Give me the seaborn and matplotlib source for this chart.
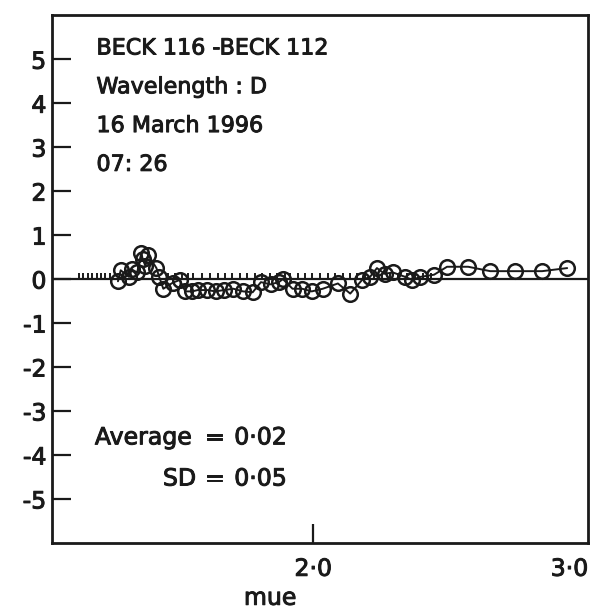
import matplotlib
matplotlib.use("Agg")
import matplotlib.pyplot as plt
import matplotlib.patheffects as pe
import seaborn as sns
import pandas as pd

# averaged points (open circles)
mue_avg = [1.29, 1.30, 1.33, 1.34, 1.36, 1.375, 1.38, 1.39, 1.40, 1.43, 1.44, 1.455,
           1.49, 1.515, 1.535, 1.56, 1.58, 1.615, 1.645, 1.675, 1.71, 1.745, 1.78,
           1.81, 1.845, 1.875, 1.89, 1.925, 1.96, 1.995, 2.035, 2.09, 2.135, 2.178,
           2.207, 2.232, 2.26, 2.29, 2.335, 2.36, 2.39, 2.44, 2.487, 2.564, 2.644,
           2.735, 2.833, 2.924]
diff_avg = [-0.05, 0.20, 0.05, 0.22, 0.15, 0.60, 0.45, 0.30, 0.55, 0.25, 0.05, -0.22,
            -0.08, -0.02, -0.28, -0.28, -0.25, -0.25, -0.28, -0.25, -0.22, -0.28, -0.30,
            -0.07, -0.12, -0.07, 0.0, -0.22, -0.22, -0.28, -0.22, -0.10, -0.33, -0.02,
            0.05, 0.25, 0.12, 0.15, 0.05, -0.02, 0.05, 0.10, 0.28, 0.28, 0.18,
            0.18, 0.18, 0.25]

# individual measurements (short vertical ticks)
mue_ind = [1.149, 1.164, 1.180, 1.195, 1.212, 1.228, 1.244, 1.261,
           1.473, 1.498, 1.524, 1.545, 1.564, 1.596, 1.625, 1.655, 1.680, 1.705,
           1.735, 1.760, 1.789, 1.815, 1.844, 1.869, 1.898, 1.916, 1.945, 1.971,
           1.996, 2.025, 2.055, 2.080, 2.109, 2.135, 2.160, 2.190, 2.220, 2.250,
           2.280, 2.310, 2.340, 2.370, 2.400, 2.430]
diff_ind = [0.06] * len(mue_ind)

y_ticks = [-5, -4, -3, -2, -1, 0, 1, 2, 3, 4, 5]
x_ticks = [2.0, 3.0]
x_tick_labels = ["2\u00b70", "3\u00b70"]

title_lines = ["BECK 116 -BECK 112", "Wavelength : D", "16 March 1996", "07: 26"]
stat_names = ["Average", "SD"]
stat_values = ["0\u00b702", "0\u00b705"]

sns.set_theme(style="white")
plt.rcParams['font.family'] = ['DejaVu Sans']
FS = 16
FT = 17
INK = "#1a1a1a"
BOLDEN = [pe.withStroke(linewidth=0.7, foreground=INK)]

fig = plt.figure(figsize=(5.94, 6.10), dpi=100)
ax = fig.add_axes([0.0875, 0.110, 0.9025, 0.865])

df_avg = pd.DataFrame({"mue": mue_avg, "diff": diff_avg})
df_ind = pd.DataFrame({"mue": mue_ind, "diff": diff_ind})

ax.axhline(0, color=INK, lw=1.6, zorder=1)
sns.scatterplot(data=df_ind, x="mue", y="diff", marker="|", s=14, linewidth=1.4,
                color=INK, ax=ax, zorder=2)
sns.lineplot(data=df_avg, x="mue", y="diff", estimator=None, sort=False,
             color=INK, lw=1.4, marker="o", markersize=10.5,
             markerfacecolor="none", markeredgecolor=INK,
             markeredgewidth=1.8, ax=ax, zorder=3)

ax.set_xlim(1.05, 3.0)
ax.set_ylim(-6, 6)
ax.set_yticks(y_ticks)
ax.set_yticklabels([str(v) for v in y_ticks], fontsize=FT)
ax.set_xticks(x_ticks)
ax.set_xticklabels(x_tick_labels, fontsize=FT)
ax.get_xticklabels()[1].set_horizontalalignment("right")
ax.tick_params(axis="y", direction="in", length=14, width=1.6, pad=4, left=True, colors=INK)
ax.tick_params(axis="x", direction="in", length=14, width=1.6, pad=10, bottom=True, colors=INK)
ax.xaxis.get_major_ticks()[1].tick1line.set_visible(False)
ax.set_xlabel("mue", fontsize=FT, color=INK)
ax.xaxis.label.set_verticalalignment("center")
ax.xaxis.set_label_coords(0.407, -0.104)
ax.set_ylabel("")
for lab in ax.get_xticklabels() + ax.get_yticklabels() + [ax.xaxis.label]:
    lab.set_path_effects(BOLDEN)

for s in ax.spines.values():
    s.set_visible(True)
    s.set_linewidth(2.0)
    s.set_color(INK)

for i, t in enumerate(title_lines):
    ax.text(0.083, 0.937 - i * 0.0735, t, transform=ax.transAxes, fontsize=FS,
            color=INK, va="center", ha="left", path_effects=BOLDEN)

name_x = [0.080, 0.207]
stat_y = [0.200, 0.122]
for nx, yy, name, val in zip(name_x, stat_y, stat_names, stat_values):
    ax.text(nx, yy, name, transform=ax.transAxes, fontsize=FT, color=INK,
            va="center", ha="left", path_effects=BOLDEN)
    ax.text(0.303, yy, "=", transform=ax.transAxes, fontsize=FT, color=INK,
            va="center", ha="center", path_effects=BOLDEN)
    ax.text(0.340, yy, val, transform=ax.transAxes, fontsize=FT, color=INK,
            va="center", ha="left", path_effects=BOLDEN)

fig.savefig("out.png", dpi=100, facecolor="white")
